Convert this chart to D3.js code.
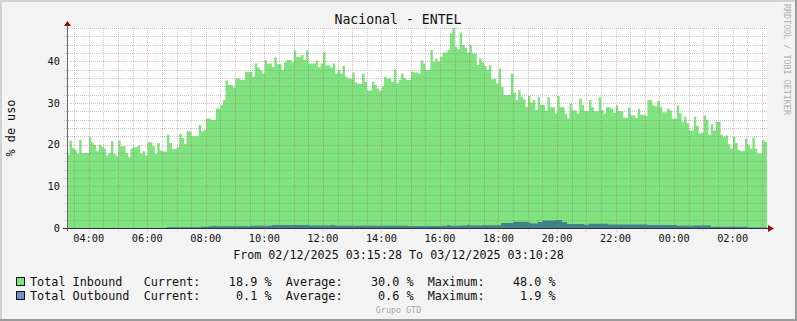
<!DOCTYPE html>
<html>
<head>
<meta charset="utf-8">
<script src="https://cdn.jsdelivr.net/npm/d3@7"></script>
<style>
  body { margin: 0; background: #f3f3f3; }
  text { font-family: "DejaVu Sans Mono", monospace; }
</style>
</head>
<body>
<svg id="chart"></svg>
<script>
const width = 797;
const height = 321;

// time window of the graph (dd/mm/yyyy in the footer)
const startTime = new Date(2025, 11, 2, 3, 15, 28);
const endTime = new Date(2025, 11, 3, 3, 10, 28);
const stepSeconds = 300;

// % utilisation, one value every 5 minutes
const inbound = [
  17.6, 21, 19.2, 18.8, 17.8, 21.2, 18, 18, 18, 21.8, 20.5, 20,
  18.4, 20, 19.5, 19, 17.4, 18, 20.8, 17.8, 17.2, 21, 19.6, 19.6,
  18, 17, 19, 19.4, 19.4, 19.8, 17.8, 18.4, 17.4, 20.6, 20.6, 19.6,
  17.8, 20.4, 18.6, 18.4, 18.3, 22.4, 20.4, 19, 19, 19.4, 22.6, 21.6,
  20.2, 23.2, 23.2, 22, 22, 22, 24.8, 23.2, 23.5, 26.3, 26.3, 25.9,
  25.9, 28.7, 28.7, 29.5, 30.7, 35.4, 34.3, 34.3, 33.8, 35.9, 35.9, 35.5,
  35.5, 37.5, 37.5, 37.5, 36.3, 39.5, 38.5, 37.8, 37.1, 40.2, 39.5, 39.5,
  38.7, 41, 39.3, 39.3, 37.9, 39.8, 40.3, 40.3, 39.8, 42.6, 41.1, 41.1,
  41.5, 40.3, 42.6, 39.5, 39.5, 39.5, 40.2, 38.5, 39.5, 42.1, 39, 39,
  38.5, 39.5, 37.1, 38, 37.1, 38.9, 36.3, 35.9, 35.9, 37.3, 34.9, 34.6,
  34.6, 37.1, 35.1, 33, 33, 35.1, 34.3, 33.5, 33, 34, 36.3, 35.9,
  35.9, 35.1, 38.1, 34.7, 35.6, 37.1, 36, 35.5, 35.5, 37.5, 37.3, 37.3,
  37.1, 40.2, 39.5, 37.9, 37.9, 42.7, 39.9, 40.7, 39.9, 41.1, 42.1, 42.1,
  42.7, 46.7, 48, 43.5, 42.9, 46.9, 43.9, 43.2, 42.1, 43.9, 41.9, 41.9,
  39.1, 40.7, 39.8, 38.9, 37.9, 39.1, 35.7, 35.9, 34.7, 38.3, 33.9, 31.9,
  31.9, 31.9, 37, 32.5, 30.7, 33.1, 31.5, 30.9, 29.1, 31.7, 30.1, 30.7,
  28.3, 31.4, 29.5, 29.5, 28.2, 31.4, 29, 29, 27.5, 31.7, 29, 29,
  27.4, 26.3, 29.8, 28.2, 28.2, 27.5, 31.1, 29.5, 28, 28, 30.7, 29,
  28, 28, 31.4, 28.3, 27.4, 29, 29, 28.6, 27.6, 29.4, 28, 28,
  26.5, 26.4, 28.9, 27, 27, 26.4, 28.6, 27.2, 27.2, 26.9, 30.7, 30.7,
  29.4, 29.2, 30.5, 29.1, 27.8, 27.8, 28.7, 28.2, 26.2, 26.2, 29.4, 27.5,
  25.4, 26.7, 25.2, 23.4, 23.4, 26.7, 24.5, 22.7, 22.9, 27, 26, 22.3,
  24.9, 23.4, 25.5, 25.5, 22.3, 21.9, 22.2, 20.1, 19, 21.9, 20.4, 18.7,
  18.5, 18.5, 21.5, 20, 19, 21.7, 19, 17.9, 17.9, 21.1, 20.7
];

const outbound = [
  0, 0, 0, 0, 0, 0, 0, 0, 0, 0, 0, 0,
  0, 0, 0, 0, 0, 0, 0, 0, 0, 0, 0, 0,
  0, 0, 0, 0, 0, 0, 0, 0, 0, 0, 0, 0,
  0, 0, 0, 0, 0, 0.2, 0.2, 0.2, 0.2, 0.2, 0.2, 0.2,
  0.2, 0.2, 0.2, 0.2, 0.2, 0.2, 0.2, 0.3, 0.3, 0.3, 0.45, 0.45,
  0.55, 0.45, 0.45, 0.45, 0.45, 0.45, 0.45, 0.45, 0.45, 0.45, 0.45, 0.45,
  0.45, 0.45, 0.45, 0.55, 0.55, 0.55, 0.55, 0.55, 0.55, 0.55, 0.55, 0.55,
  0.75, 0.75, 0.75, 0.75, 0.75, 0.75, 0.75, 0.75, 0.75, 0.75, 0.75, 0.75,
  0.75, 0.75, 0.75, 0.6, 0.6, 0.6, 0.6, 0.6, 0.6, 0.6, 0.6, 0.6,
  0.75, 0.75, 0.55, 0.55, 0.55, 0.55, 0.55, 0.55, 0.55, 0.55, 0.55, 0.55,
  0.55, 0.55, 0.55, 0.55, 0.55, 0.55, 0.55, 0.55, 0.55, 0.55, 0.55, 0.55,
  0.55, 0.55, 0.55, 0.55, 0.55, 0.55, 0.55, 0.55, 0.5, 0.5, 0.5, 0.5,
  0.5, 0.5, 0.5, 0.5, 0.5, 0.5, 0.5, 0.5, 0.5, 0.5, 0.55, 0.55,
  0.75, 0.55, 0.55, 0.55, 0.55, 0.55, 0.6, 0.6, 0.8, 0.6, 0.6, 0.6,
  0.6, 0.6, 0.65, 0.65, 0.65, 0.65, 0.65, 0.65, 0.65, 0.65, 1.2, 1.2,
  1.2, 1.2, 1.2, 1.5, 1.5, 1.5, 1.5, 1.5, 1.5, 1.3, 1.1, 1.1,
  1.1, 1.45, 1.45, 1.8, 1.8, 1.8, 1.8, 1.8, 1.9, 1.9, 1.9, 1.4,
  1.4, 0.95, 0.95, 0.95, 0.95, 0.95, 0.95, 0.95, 0.8, 0.8, 1.0, 1.0,
  1.0, 1.0, 1.0, 1.0, 1.0, 1.0, 0.85, 0.85, 0.85, 0.85, 0.85, 0.85,
  0.85, 0.85, 0.85, 0.85, 0.85, 0.85, 0.85, 0.85, 0.85, 0.85, 0.7, 0.7,
  0.7, 0.7, 0.7, 0.7, 0.7, 0.7, 0.7, 0.7, 0.7, 0.7, 0.55, 0.55,
  0.55, 0.55, 0.55, 0.55, 0.55, 0.6, 0.6, 0.6, 0.6, 0.6, 0.6, 0.6,
  0.3, 0.3, 0.3, 0.3, 0.3, 0.3, 0.3, 0.3, 0.3, 0.3, 0.3, 0.3,
  0.3, 0.3, 0.3, 0.1, 0.1, 0.1, 0.1, 0.1, 0.1, 0.1, 0.1
];

const yTicks = [0, 10, 20, 30, 40];
const seriesNames = ["Total Inbound", "Total Outbound"];
const seriesColors = ["#7fe47f", "#7290c8"];
const currentVals = [18.9, 0.1];
const averageVals = [30.0, 0.6];
const maximumVals = [48.0, 1.9];

const svg = d3.select("#chart").attr("width", width).attr("height", height);

// frame
svg.append("rect").attr("width", width).attr("height", height).attr("fill", "#f3f3f3");
svg.append("path").attr("d", `M1,${height} V1 H${width}`).attr("fill", "none")
  .attr("stroke", "#d2d2d2").attr("stroke-width", 2);
svg.append("path").attr("d", `M0,${height - 1} H${width - 1} V0`).attr("fill", "none")
  .attr("stroke", "#9c9c9c").attr("stroke-width", 2);

const x = d3.scaleTime().domain([startTime, endTime]).range([67, 767]);
const y = d3.scaleLinear().domain([0, 48]).range([228, 28]);

// canvas
svg.append("rect").attr("x", 67).attr("y", 28).attr("width", 700).attr("height", 200).attr("fill", "#ffffff");

const toPoints = (vals) => {
  const pts = vals.map((v, i) => ({ t: new Date(+startTime + i * stepSeconds * 1000), v }));
  pts.push({ t: endTime, v: vals[vals.length - 1] });
  return pts;
};

const area = d3.area()
  .x((d) => x(d.t))
  .y0(y(0))
  .y1((d) => y(d.v))
  .curve(d3.curveStepAfter);

svg.append("path").datum(toPoints(inbound)).attr("d", area).attr("fill", seriesColors[0]);
svg.append("path").datum(toPoints(outbound)).attr("d", area).attr("fill", "#3f8288");

// grid (drawn on top like rrdtool)
const grid = svg.append("g").attr("shape-rendering", "crispEdges");
const minorY = d3.range(2, 49, 2).filter((v) => v % 10 !== 0);
const majorY = yTicks.filter((v) => v > 0);
const px = (v) => Math.round(v) + 0.5;
const minorColor = "rgba(130,130,130,0.45)";
const majorColor = "rgba(230,70,70,0.38)";

grid.selectAll(".hmin").data(minorY).join("line")
  .attr("x1", 64).attr("x2", 767)
  .attr("y1", (d) => px(y(d))).attr("y2", (d) => px(y(d)))
  .attr("stroke", minorColor).attr("stroke-dasharray", "1,1");

const halfHours = d3.timeMinute.every(30).range(startTime, endTime)
  .filter((d) => d.getMinutes() === 30);
const hours = d3.timeHour.range(startTime, endTime);

grid.selectAll(".vmin").data(halfHours).join("line")
  .attr("x1", (d) => px(x(d))).attr("x2", (d) => px(x(d)))
  .attr("y1", 28).attr("y2", 230)
  .attr("stroke", minorColor).attr("stroke-dasharray", "1,1");

grid.selectAll(".hmaj").data(majorY).join("line")
  .attr("x1", 63).attr("x2", 767)
  .attr("y1", (d) => px(y(d))).attr("y2", (d) => px(y(d)))
  .attr("stroke", majorColor).attr("stroke-dasharray", "1,1");

grid.selectAll(".vmaj").data(hours).join("line")
  .attr("x1", (d) => px(x(d))).attr("x2", (d) => px(x(d)))
  .attr("y1", 28).attr("y2", 231)
  .attr("stroke", majorColor).attr("stroke-dasharray", "1,1");

// axes
svg.append("line").attr("x1", 63).attr("x2", 769).attr("y1", 228.5).attr("y2", 228.5)
  .attr("stroke", "#2a3040").attr("shape-rendering", "crispEdges");
svg.append("line").attr("x1", 67.5).attr("x2", 67.5).attr("y1", 231).attr("y2", 24)
  .attr("stroke", "#666").attr("shape-rendering", "crispEdges");
svg.append("path").attr("d", "M64,26 L67.5,21 L71,26 Z").attr("fill", "#8b1010");
svg.append("path").attr("d", "M768,225 L774,228.5 L768,232 Z").attr("fill", "#8b1010");

// tick labels
svg.append("g").selectAll("text").data(yTicks).join("text")
  .attr("x", 60).attr("y", (d) => y(d) + 3.6)
  .attr("text-anchor", "end").attr("font-size", 10.3).attr("fill", "#111")
  .text((d) => d);

const fmt = d3.timeFormat("%H:%M");
svg.append("g").selectAll("text").data(d3.timeHour.every(2).range(startTime, endTime)).join("text")
  .attr("x", (d) => x(d)).attr("y", 242)
  .attr("text-anchor", "middle").attr("font-size", 10.3).attr("fill", "#111")
  .text((d) => fmt(d));

// titles
svg.append("text").attr("x", 398).attr("y", 24).attr("text-anchor", "middle")
  .attr("font-size", 13.2).attr("fill", "#111").text("Nacional - ENTEL");

svg.append("text").attr("transform", "translate(15,128) rotate(-90)")
  .attr("text-anchor", "middle").attr("font-size", 11.8).attr("fill", "#111").text("% de uso");

svg.append("text").attr("transform", "translate(784,4) rotate(90)")
  .attr("font-size", 8.4).attr("fill", "#b0b0b0").text("RRDTOOL / TOBI OETIKER");

const dfmt = d3.timeFormat("%d/%m/%Y %H:%M:%S");
svg.append("text").attr("x", 398.5).attr("y", 258.5).attr("text-anchor", "middle")
  .attr("font-size", 11.7).attr("fill", "#111")
  .text(`From ${dfmt(startTime)} To ${dfmt(endTime)}`);

// legend
const pad = (v, n) => v.toFixed(1).padStart(n, " ");
const legend = svg.append("g");
seriesNames.forEach((name, i) => {
  const ly = 282 + i * 14;
  legend.append("rect").attr("x", 16.5).attr("y", ly - 4.5).attr("width", 8).attr("height", 8)
    .attr("fill", seriesColors[i]).attr("stroke", "#111");
  legend.append("text").attr("x", 30).attr("y", ly + 4)
    .attr("font-size", 11.8).attr("fill", "#111").style("white-space", "pre")
    .text(`${name.padEnd(16, " ")}Current:${pad(currentVals[i], 8)} %  Average:${pad(averageVals[i], 8)} %  Maximum:${pad(maximumVals[i], 8)} %`);
});

svg.append("text").attr("x", 398.5).attr("y", 313).attr("text-anchor", "middle")
  .attr("font-size", 8.4).attr("fill", "#a8a8a8").text("Grupo GTD");
</script>
</body>
</html>
